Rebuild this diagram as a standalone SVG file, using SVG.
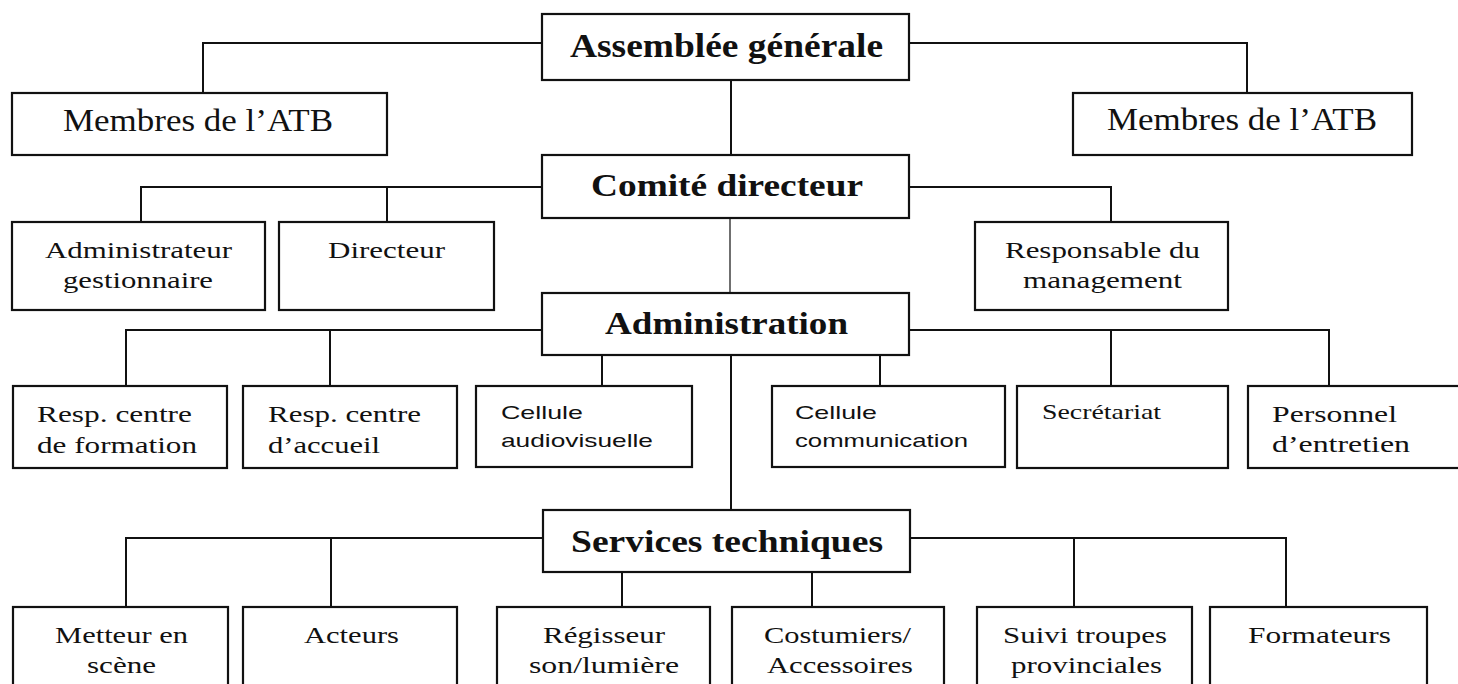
<svg xmlns="http://www.w3.org/2000/svg" width="1458" height="684" viewBox="0 0 1458 684">
<style>
.box{fill:#fff;stroke:#111;stroke-width:2.2}
.ln{fill:none;stroke:#111;stroke-width:2}
.thin{fill:none;stroke:#333;stroke-width:1.4}
.t{font-family:"Liberation Serif","Times New Roman",serif;font-size:23px;fill:#111}
.b{font-family:"Liberation Serif","Times New Roman",serif;font-size:33px;font-weight:bold;fill:#111}
.s{font-family:"Liberation Sans",Arial,sans-serif;font-size:19px;fill:#111}
</style>
<rect width="1458" height="684" fill="#fff"/>
<g id="connectors">
<path class="ln" d="M542 43H203V93"/>
<path class="ln" d="M909 43H1247V93"/>
<path class="ln" d="M731 80V155"/>
<path class="ln" d="M542 187H141V222M387 187V222"/>
<path class="ln" d="M909 187H1111V222"/>
<path class="thin" d="M730 218V293"/>
<path class="ln" d="M542 330H126V386M330 330V386"/>
<path class="ln" d="M602 355V386M880 355V386"/>
<path class="ln" d="M909 330H1329V386M1111 330V386"/>
<path class="ln" d="M731 355V510"/>
<path class="ln" d="M543 538H126V607M331 538V607"/>
<path class="ln" d="M622 572V607M812 572V607"/>
<path class="ln" d="M910 538H1286V607M1074 538V607"/>
</g>
<g id="assemblee"><rect class="box" x="542" y="14" width="367" height="66"/><text class="b" x="570" y="57" textLength="313" lengthAdjust="spacingAndGlyphs">Assemblée générale</text></g>
<g id="membres-l"><rect class="box" x="12" y="93" width="375" height="62"/><text class="t" style="font-size:31px" x="63" y="131" textLength="270" lengthAdjust="spacingAndGlyphs">Membres de l’ATB</text></g>
<g id="membres-r"><rect class="box" x="1073" y="93" width="339" height="62"/><text class="t" style="font-size:31px" x="1107" y="130" textLength="270" lengthAdjust="spacingAndGlyphs">Membres de l’ATB</text></g>
<g id="comite"><rect class="box" x="542" y="155" width="367" height="63"/><text class="b" style="font-size:32px" x="591" y="196" textLength="272" lengthAdjust="spacingAndGlyphs">Comité directeur</text></g>
<g id="administrateur"><rect class="box" x="12" y="222" width="253" height="88"/><text class="t" style="font-size:24px" x="45" y="258" textLength="187" lengthAdjust="spacingAndGlyphs">Administrateur</text><text class="t" style="font-size:24px" x="63" y="288" textLength="150" lengthAdjust="spacingAndGlyphs">gestionnaire</text></g>
<g id="directeur"><rect class="box" x="279" y="222" width="215" height="88"/><text class="t" style="font-size:24px" x="328" y="258" textLength="117" lengthAdjust="spacingAndGlyphs">Directeur</text></g>
<g id="responsable"><rect class="box" x="975" y="222" width="253" height="88"/><text class="t" style="font-size:24px" x="1005" y="258" textLength="195" lengthAdjust="spacingAndGlyphs">Responsable du</text><text class="t" style="font-size:24px" x="1023" y="288" textLength="159" lengthAdjust="spacingAndGlyphs">management</text></g>
<g id="administration"><rect class="box" x="542" y="293" width="367" height="62"/><text class="b" style="font-size:32px" x="605" y="334" textLength="243" lengthAdjust="spacingAndGlyphs">Administration</text></g>
<g id="resp-formation"><rect class="box" x="13" y="386" width="214" height="82"/><text class="t" x="37" y="422" textLength="155" lengthAdjust="spacingAndGlyphs">Resp. centre</text><text class="t" x="37" y="453" textLength="160" lengthAdjust="spacingAndGlyphs">de formation</text></g>
<g id="resp-accueil"><rect class="box" x="243" y="386" width="214" height="82"/><text class="t" x="268" y="422" textLength="153" lengthAdjust="spacingAndGlyphs">Resp. centre</text><text class="t" x="268" y="453" textLength="112" lengthAdjust="spacingAndGlyphs">d’accueil</text></g>
<g id="cellule-audio"><rect class="box" x="476" y="386" width="216" height="81"/><text class="s" x="501" y="419" textLength="82" lengthAdjust="spacingAndGlyphs">Cellule</text><text class="s" x="501" y="447" textLength="152" lengthAdjust="spacingAndGlyphs">audiovisuelle</text></g>
<g id="cellule-comm"><rect class="box" x="772" y="386" width="233" height="81"/><text class="s" x="795" y="419" textLength="82" lengthAdjust="spacingAndGlyphs">Cellule</text><text class="s" x="795" y="447" textLength="173" lengthAdjust="spacingAndGlyphs">communication</text></g>
<g id="secretariat"><rect class="box" x="1017" y="386" width="211" height="82"/><text class="t" style="font-size:21px" x="1042" y="419" textLength="119" lengthAdjust="spacingAndGlyphs">Secrétariat</text></g>
<g id="personnel"><rect class="box" x="1248" y="386" width="214" height="82"/><text class="t" x="1272" y="422" textLength="125" lengthAdjust="spacingAndGlyphs">Personnel</text><text class="t" x="1272" y="452" textLength="138" lengthAdjust="spacingAndGlyphs">d’entretien</text></g>
<g id="services"><rect class="box" x="543" y="510" width="367" height="62"/><text class="b" style="font-size:32px" x="571" y="552" textLength="312" lengthAdjust="spacingAndGlyphs">Services techniques</text></g>
<g id="metteur"><rect class="box" x="13" y="607" width="215" height="95"/><text class="t" x="55" y="643" textLength="133" lengthAdjust="spacingAndGlyphs">Metteur en</text><text class="t" x="87" y="673" textLength="69" lengthAdjust="spacingAndGlyphs">scène</text></g>
<g id="acteurs"><rect class="box" x="243" y="607" width="214" height="95"/><text class="t" x="304" y="643" textLength="95" lengthAdjust="spacingAndGlyphs">Acteurs</text></g>
<g id="regisseur"><rect class="box" x="497" y="607" width="213" height="95"/><text class="t" x="543" y="643" textLength="122" lengthAdjust="spacingAndGlyphs">Régisseur</text><text class="t" x="529" y="673" textLength="150" lengthAdjust="spacingAndGlyphs">son/lumière</text></g>
<g id="costumiers"><rect class="box" x="732" y="607" width="212" height="95"/><text class="t" x="764" y="643" textLength="147" lengthAdjust="spacingAndGlyphs">Costumiers/</text><text class="t" x="767" y="673" textLength="146" lengthAdjust="spacingAndGlyphs">Accessoires</text></g>
<g id="suivi"><rect class="box" x="977" y="607" width="215" height="95"/><text class="t" x="1003" y="643" textLength="164" lengthAdjust="spacingAndGlyphs">Suivi troupes</text><text class="t" x="1011" y="673" textLength="151" lengthAdjust="spacingAndGlyphs">provinciales</text></g>
<g id="formateurs"><rect class="box" x="1210" y="607" width="217" height="95"/><text class="t" x="1248" y="643" textLength="143" lengthAdjust="spacingAndGlyphs">Formateurs</text></g>
</svg>
